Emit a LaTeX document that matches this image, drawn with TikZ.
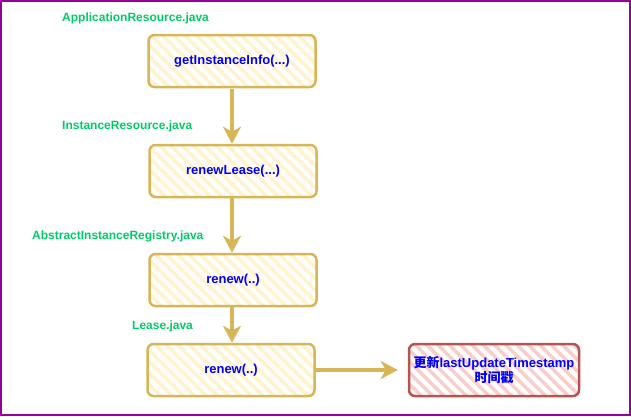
\documentclass[tikz,border=0pt]{standalone}
\usepackage{fontspec}
\setmainfont{Liberation Sans}
\newfontfamily\cjk{Noto Sans CJK SC}
\usetikzlibrary{patterns.meta,arrows.meta}
\definecolor{ylwline}{HTML}{D6B656}
\definecolor{ylwfill}{HTML}{FFF2CC}
\definecolor{redline}{HTML}{B85450}
\definecolor{redfill}{HTML}{F8CECC}
\definecolor{lblgreen}{RGB}{0,204,102}
\definecolor{txtblue}{RGB}{0,0,255}
\definecolor{frame}{RGB}{153,0,153}
\tikzset{
  boxbase/.style={minimum height=52pt,rounded corners=6pt,line width=2.5pt,
    pattern={Lines[angle=-45,distance=8pt,line width=3.5pt]},
    font=\bfseries\fontsize{13pt}{15pt}\selectfont,text=txtblue},
  ybox/.style={boxbase,minimum width=167pt,draw=ylwline,pattern color=ylwfill},
  rbox/.style={boxbase,minimum width=170pt,draw=redline,pattern color=redfill,
    align=center,inner sep=1pt},
  lbl/.style={anchor=west,inner sep=0pt,text=lblgreen,font=\bfseries\fontsize{12pt}{14pt}\selectfont},
  flow/.style={draw=ylwline,line width=4pt,-{Stealth[length=17pt,width=18pt,inset=5pt]}},
}
\begin{document}
\begin{tikzpicture}[x=1pt,y=-1pt]
\useasboundingbox (0,0) rectangle (631,416);
\draw[frame,line width=2pt] (1,1) rectangle (630,415);
\node[ybox] (b1) at (232,61) {getInstanceInfo(...)};
\node[ybox] (b2) at (233,171) {renewLease(...)};
\node[ybox] (b3) at (233,280) {renew(..)};
\node[ybox] (b4) at (231,370) {renew(..)};
\node[rbox] (r) at (494,370) {{\cjk 更新}lastUpdateTimestamp\\{\cjk 时间戳}};
\node[lbl] (l1) at (62,18) {ApplicationResource.java};
\node[lbl] (l2) at (62,126) {InstanceResource.java};
\node[lbl] (l3) at (32,236) {AbstractInstanceRegistry.java};
\node[lbl] (l4) at (132,326) {Lease.java};
\draw[flow] (b1.south -| 232,0) -- (b2.north -| 232,0);
\draw[flow] (b2.south -| 232,0) -- (b3.north -| 232,0);
\draw[flow] (b3.south -| 232,0) -- (b4.north -| 232,0);
\draw[flow,shorten >=10pt] (b4.east) -- (r.west);
\end{tikzpicture}
\end{document}
